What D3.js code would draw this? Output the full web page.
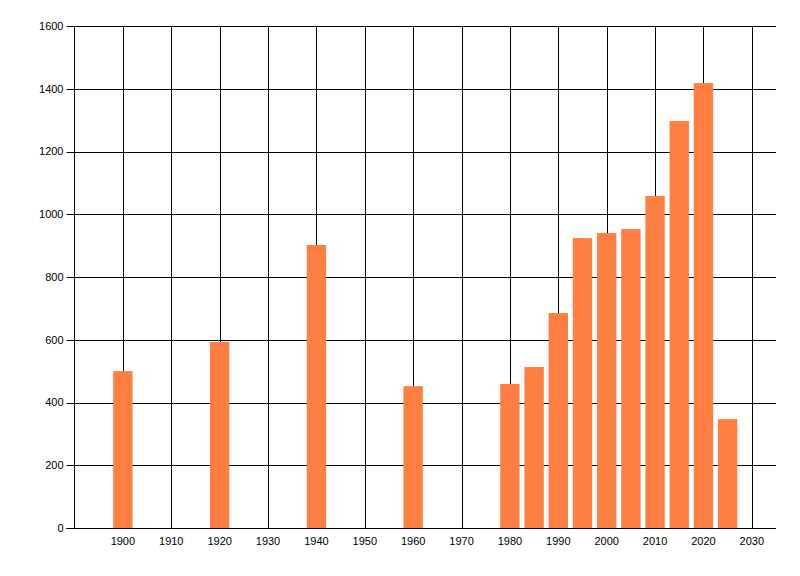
<!DOCTYPE html>
<html>
<head>
<meta charset="utf-8">
<script src="https://cdn.jsdelivr.net/npm/d3@7"></script>
<style>
  body { margin: 0; background: #fff; }
  svg { display: block; }
</style>
</head>
<body>
<div id="chart"></div>
<script>
const years = [1900, 1920, 1940, 1960, 1980, 1985, 1990, 1995, 2000, 2005, 2010, 2015, 2020, 2025]
const counts = [500, 593, 902, 452, 459, 513, 685, 924, 940, 953, 1058, 1297, 1418, 347]
const xTicks = [1900, 1910, 1920, 1930, 1940, 1950, 1960, 1970, 1980, 1990, 2000, 2010, 2020, 2030]
const yTicks = [0, 200, 400, 600, 800, 1000, 1200, 1400, 1600]

const width = 800
const height = 576
const plotLeft = 74.5
const plotRight = 776
const plotTop = 26
const plotBottom = 528
const barColor = '#ff7f42'

const x = d3.scaleLinear().domain([1890, 2035]).range([plotLeft, plotRight])
const y = d3.scaleLinear().domain([0, 1600]).range([plotBottom, plotTop])
const barW = x(1904) - x(1900)

const svg = d3.select('#chart').append('svg')
  .attr('width', width)
  .attr('height', height)
  .attr('font-family', 'Liberation Sans, Arial, sans-serif')
  .attr('font-size', 11)

// grid
const grid = svg.append('g').attr('stroke', '#000').attr('stroke-width', 1)
grid.selectAll('line.h')
  .data(yTicks)
  .join('line')
  .attr('class', 'h')
  .attr('x1', plotLeft - 8)
  .attr('x2', plotRight)
  .attr('y1', d => Math.round(y(d)) + 0.5)
  .attr('y2', d => Math.round(y(d)) + 0.5)
grid.selectAll('line.v')
  .data(xTicks)
  .join('line')
  .attr('class', 'v')
  .attr('x1', d => Math.round(x(d)) + 0.5)
  .attr('x2', d => Math.round(x(d)) + 0.5)
  .attr('y1', plotTop)
  .attr('y2', plotBottom)

// bars
svg.append('g')
  .selectAll('rect')
  .data(years)
  .join('rect')
  .attr('fill', barColor)
  .attr('x', d => x(d) - barW / 2)
  .attr('width', barW)
  .attr('y', (d, i) => y(counts[i]))
  .attr('height', (d, i) => y(0) - y(counts[i]))

// axis lines
svg.append('line')
  .attr('stroke', '#000')
  .attr('x1', plotLeft).attr('x2', plotLeft)
  .attr('y1', plotTop).attr('y2', plotBottom + 0.5)
svg.append('line')
  .attr('stroke', '#000')
  .attr('x1', plotLeft - 8).attr('x2', plotRight)
  .attr('y1', plotBottom + 0.5).attr('y2', plotBottom + 0.5)

// labels
svg.append('g')
  .selectAll('text')
  .data(yTicks)
  .join('text')
  .attr('x', plotLeft - 11)
  .attr('y', d => y(d))
  .attr('dy', '0.35em')
  .attr('text-anchor', 'end')
  .text(d => d)

svg.append('g')
  .selectAll('text')
  .data(xTicks)
  .join('text')
  .attr('x', d => x(d))
  .attr('y', 545)
  .attr('text-anchor', 'middle')
  .text(d => d)
</script>
</body>
</html>
